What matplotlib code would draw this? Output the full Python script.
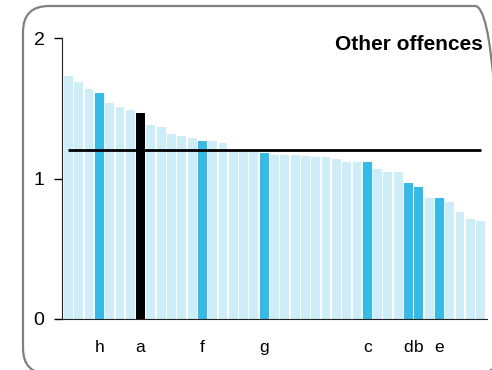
import matplotlib.pyplot as plt
from matplotlib.patches import FancyBboxPatch

plt.rcParams['font.family'] = ['Liberation Sans', 'DejaVu Sans']

# bar heights, sorted as in the picture
values = [1.73, 1.69, 1.64, 1.61, 1.54, 1.51, 1.49, 1.47, 1.38, 1.37,
          1.32, 1.30, 1.29, 1.27, 1.27, 1.25, 1.20, 1.19, 1.19, 1.18,
          1.17, 1.17, 1.17, 1.16, 1.15, 1.15, 1.14, 1.12, 1.12, 1.12,
          1.07, 1.05, 1.05, 0.97, 0.94, 0.86, 0.86, 0.83, 0.76, 0.71, 0.70]
# label for highlighted bars ('' = plain)
labels = ['', '', '', 'h', '', '', '', 'a', '', '',
          '', '', '', 'f', '', '', '', '', '', 'g',
          '', '', '', '', '', '', '', '', '', 'c',
          '', '', '', 'd', 'b', '', 'e', '', '', '', '']
own = 'a'          # the black bar
average = 1.2
title = "Other offences"

light = '#cdedf9'
blue = '#33bbea'

fig = plt.figure(figsize=(4.92, 3.70), dpi=100)
ax = fig.add_axes([0.127, 0.138, 0.863, 0.759])

x = list(range(len(values)))
cols = []
for lab in labels:
    if lab == own:
        cols.append('black')
    elif lab:
        cols.append(blue)
    else:
        cols.append(light)

ax.bar(x, values, width=0.86, color=cols, zorder=2)
ax.hlines(average, 0, len(values) - 1, color='black', lw=2, zorder=3)

ax.set_xlim(-0.58, len(values) - 0.37)
ax.set_ylim(0, 2)
ax.set_yticks([0, 1, 2])
ax.set_xticks(x)
ax.set_xticklabels(labels)
ax.tick_params(axis='x', length=0, pad=15, labelsize=12.5)
ax.tick_params(axis='y', length=6, width=1, pad=7, labelsize=14)

for s in ['top', 'right']:
    ax.spines[s].set_visible(False)
ax.spines['left'].set_color('#222222')
ax.spines['bottom'].set_color('#222222')

ax.text(0.99, 0.979, title, transform=ax.transAxes, ha='right', va='center',
        fontsize=15, fontweight='bold')

# rounded frame in pixel units (display coords), partly off the canvas
box = FancyBboxPatch((23, -4), 478, 368,
                     boxstyle="round,pad=0,rounding_size=26",
                     transform=None, fill=False, clip_on=False,
                     edgecolor='#808080', lw=1.6)
fig.patches.append(box)

fig.savefig('out.png', dpi=100)
